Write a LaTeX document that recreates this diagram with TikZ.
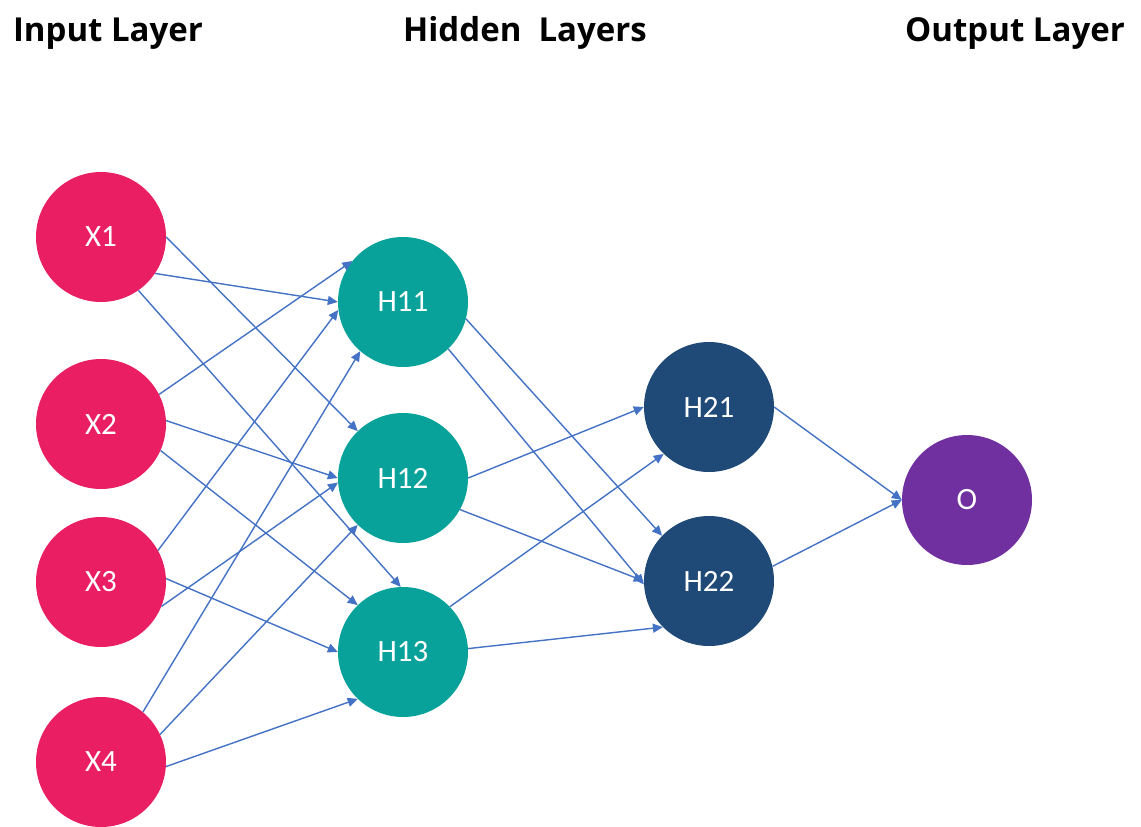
\documentclass[tikz,border=0pt]{standalone}
\usepackage{fontspec}
\setmainfont{Carlito}
\newfontfamily\titlefont{Open Sans}
\usetikzlibrary{arrows.meta}
\definecolor{inpink}{RGB}{233,30,99}
\definecolor{hteal}{RGB}{8,162,154}
\definecolor{hnavy}{RGB}{31,73,119}
\definecolor{outpurple}{RGB}{112,48,160}
\definecolor{edgeblue}{RGB}{68,114,196}
\tikzset{
  neuron/.style={circle, minimum size=130pt, inner sep=0pt, text=white,
    font=\fontsize{31}{31}\selectfont},
  inputn/.style={neuron, fill=inpink},
  hidone/.style={neuron, fill=hteal},
  hidtwo/.style={neuron, fill=hnavy},
  outn/.style={neuron, fill=outpurple},
  layertitle/.style={anchor=base, font=\titlefont\bfseries\fontsize{33}{33}\selectfont},
  conn/.style={draw=edgeblue, line width=1.4pt, -{Triangle[length=10pt,width=9pt]}}
}
\begin{document}
\begin{tikzpicture}[x=1pt,y=-1pt]
\useasboundingbox[fill=white] (0,0) rectangle (1141,827);
% titles
\node[layertitle] (tin) at (108,41) {Input Layer};
\node[layertitle] (thid) at (525,41) {Hidden\ \ Layers};
\node[layertitle] (tout) at (1015,41) {Output Layer};
% nodes
\node[inputn] (X1) at (101,237) {X1};
\node[inputn] (X2) at (101,424) {X2};
\node[inputn] (X3) at (101,582) {X3};
\node[inputn] (X4) at (101,762) {X4};
\node[hidone] (H11) at (403,302) {H11};
\node[hidone] (H12) at (403,478) {H12};
\node[hidone] (H13) at (403,652) {H13};
\node[hidtwo] (H21) at (709,407) {H21};
\node[hidtwo] (H22) at (709,581) {H22};
\node[outn] (O) at (967,500) {O};
% input -> hidden 1
\draw[conn] (X1.-55) -- (H13.92);
\draw[conn] (X1.0) -- (H12.134);
\draw[conn] (X1.-34) -- (H11.180);
\draw[conn] (X2.27) -- (H11.141);
\draw[conn] (X2.3) -- (H12.180);
\draw[conn] (X2.-24) -- (H13.134);
\draw[conn] (X3.29) -- (H11.187);
\draw[conn] (X3.-22) -- (H12.184);
\draw[conn] (X3.3) -- (H13.180);
\draw[conn] (X4.50) -- (H11.229);
\draw[conn] (X4.25) -- (H12.226);
\draw[conn] (X4.-4) -- (H13.226);
% hidden 1 -> hidden 2
\draw[conn] (H11.-15) -- (H22.136);
\draw[conn] (H11.-46) -- (H22.183);
\draw[conn] (H12.0) -- (H21.180);
\draw[conn] (H12.-29) -- (H22.180);
\draw[conn] (H13.44) -- (H21.226);
\draw[conn] (H13.3) -- (H22.225);
% hidden 2 -> output
\draw[conn] (H21.0) -- (O.180);
\draw[conn] (H22.13) -- (O.180);
\end{tikzpicture}
\end{document}
